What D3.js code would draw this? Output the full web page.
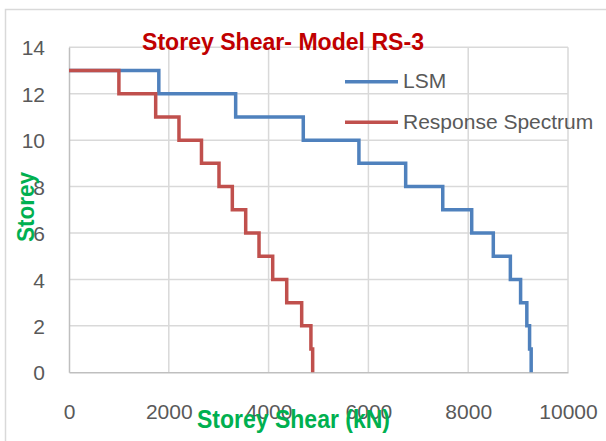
<!DOCTYPE html>
<html>
<head>
<meta charset="utf-8">
<script src="https://cdn.jsdelivr.net/npm/d3@7"></script>
<style>
  html, body { margin: 0; padding: 0; background: #fff; }
  svg { display: block; }
</style>
</head>
<body>
<svg id="chart" width="606" height="441"></svg>
<script>
// ---- Data ----
const storeys = [13, 12, 11, 10, 9, 8, 7, 6, 5, 4, 3, 2, 1];
const lsmShear = [1800, 3340, 4695, 5810, 6747, 7490, 8070, 8503, 8845, 9050, 9175, 9230, 9262];
const rsShear = [1000, 1737, 2204, 2655, 3006, 3273, 3541, 3808, 4082, 4363, 4663, 4848, 4883];
const seriesNames = ["LSM", "Response Spectrum"];
const seriesColors = ["#4F81BD", "#C0504D"];
const xTicks = [0, 2000, 4000, 6000, 8000, 10000];
const yTicks = [0, 2, 4, 6, 8, 10, 12, 14];
const titleText = "Storey Shear- Model RS-3";
const xTitle = "Storey Shear (kN)";
const yTitle = "Storey";

const svg = d3.select("#chart");

// chart area border (cropped at right/bottom like the reference)
svg.append("rect").attr("x", 5.5).attr("y", 9.5).attr("width", 700).attr("height", 500)
  .attr("fill", "#fff").attr("stroke", "#d9d9d9").attr("stroke-width", 1.5);

const plot = { left: 69, right: 568, top: 47.3, bottom: 372.3 };
const x = d3.scaleLinear().domain([0, 10000]).range([plot.left, plot.right]);
const y = d3.scaleLinear().domain([0, 14]).range([plot.bottom, plot.top]);

const tickFont = "'Liberation Sans', Arial, sans-serif";

// gridlines
const g = svg.append("g");
g.selectAll(".vg").data(xTicks.slice(1)).join("line")
  .attr("x1", d => x(d)).attr("x2", d => x(d))
  .attr("y1", plot.top).attr("y2", plot.bottom)
  .attr("stroke", "#d9d9d9").attr("stroke-width", 1.5);
g.selectAll(".hg").data(yTicks.slice(1)).join("line")
  .attr("x1", plot.left).attr("x2", plot.right)
  .attr("y1", d => y(d)).attr("y2", d => y(d))
  .attr("stroke", "#d9d9d9").attr("stroke-width", 1.5);

// axes via d3
const xAxis = d3.axisBottom(x).tickValues(xTicks).tickSize(0).tickPadding(0).tickFormat(d3.format("d"));
const yAxis = d3.axisLeft(y).tickValues(yTicks).tickSize(0).tickPadding(0).tickFormat(d3.format("d"));

const gx = svg.append("g").attr("transform", `translate(0,${plot.bottom})`).call(xAxis);
gx.select(".domain").attr("stroke", "#bfbfbf").attr("stroke-width", 1.5);
gx.selectAll("text").attr("font-family", tickFont).attr("font-size", 21).attr("fill", "#595959")
  .attr("dy", null).attr("y", 47);

const gy = svg.append("g").attr("transform", `translate(${plot.left},0)`).call(yAxis);
gy.select(".domain").attr("stroke", "#bfbfbf").attr("stroke-width", 1.5);
gy.selectAll("text").attr("font-family", tickFont).attr("font-size", 21).attr("fill", "#595959")
  .attr("x", -24).attr("dy", "0.36em");

// step lines
function stepPoints(vals) {
  const pts = [[0, storeys[0]]];
  vals.forEach((v, i) => {
    pts.push([v, storeys[i]]);
    pts.push([v, storeys[i] - 1]);
  });
  return pts;
}
const line = d3.line().x(d => x(d[0])).y(d => y(d[1]));
const series = [lsmShear, rsShear];
series.forEach((vals, i) => {
  svg.append("path").datum(stepPoints(vals))
    .attr("d", line).attr("fill", "none")
    .attr("stroke", seriesColors[i]).attr("stroke-width", 3.5)
    .attr("stroke-linejoin", "miter");
});

// legend
const legY = [81.7, 122.3];
seriesNames.forEach((name, i) => {
  svg.append("line").attr("x1", 345).attr("x2", 398).attr("y1", legY[i]).attr("y2", legY[i])
    .attr("stroke", seriesColors[i]).attr("stroke-width", 3.5);
  svg.append("text").attr("x", 403).attr("y", legY[i] + 6.5)
    .attr("font-family", tickFont).attr("font-size", 21).attr("fill", "#595959")
    .text(name);
});

// title
svg.append("text").attr("x", 142).attr("y", 50)
  .attr("font-family", tickFont).attr("font-weight", "bold").attr("font-size", 24)
  .attr("fill", "#C00000").attr("textLength", 282).attr("lengthAdjust", "spacingAndGlyphs")
  .text(titleText);

// axis titles
svg.append("text").attr("x", 197).attr("y", 427.5)
  .attr("font-family", tickFont).attr("font-weight", "bold").attr("font-size", 25)
  .attr("fill", "#00B050").attr("textLength", 193).attr("lengthAdjust", "spacingAndGlyphs")
  .text(xTitle);

svg.append("text").attr("transform", "translate(34,242) rotate(-90)")
  .attr("font-family", tickFont).attr("font-weight", "bold").attr("font-size", 24)
  .attr("fill", "#00B050").attr("textLength", 70).attr("lengthAdjust", "spacingAndGlyphs")
  .text(yTitle);
</script>
</body>
</html>
